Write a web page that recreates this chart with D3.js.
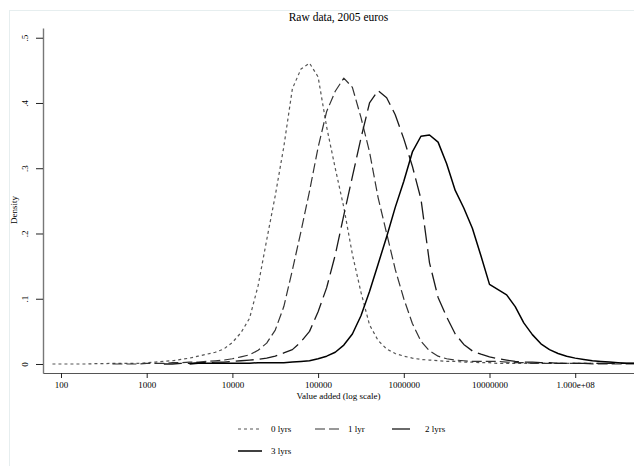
<!DOCTYPE html>
<html>
<head>
<meta charset="utf-8">
<script src="https://cdn.jsdelivr.net/npm/d3@7"></script>
<style>
  body { margin: 0; background: #fff; }
  svg text { font-family: "Times New Roman", "Liberation Serif", serif; fill: #000; }
</style>
</head>
<body>
<div id="chart"></div>
<script>
// log10 of value added (grid where the densities were read)
var logGrid = [1.9, 2.0, 2.1, 2.2, 2.3, 2.4, 2.5, 2.6, 2.7, 2.8, 2.9,
  3.0, 3.1, 3.2, 3.3, 3.4, 3.5, 3.6, 3.7, 3.8, 3.9,
  4.0, 4.1, 4.2, 4.3, 4.4, 4.5, 4.6, 4.7, 4.8, 4.9,
  5.0, 5.1, 5.2, 5.3, 5.4, 5.5, 5.6, 5.7, 5.8, 5.9,
  6.0, 6.1, 6.2, 6.3, 6.4, 6.5, 6.6, 6.7, 6.8, 6.9,
  7.0, 7.1, 7.2, 7.3, 7.4, 7.5, 7.6, 7.7, 7.8, 7.9,
  8.0, 8.1, 8.2, 8.3, 8.4, 8.5, 8.6, 8.7];

var seriesNames = ["0 lyrs", "1 lyr", "2 lyrs", "3 lyrs"];

var dens0 = [0.000, 0.000, 0.000, 0.000, 0.000, 0.0005, 0.0005, 0.001, 0.001, 0.001, 0.001,
  0.002, 0.003, 0.004, 0.005, 0.007, 0.009, 0.012, 0.015, 0.018, 0.023,
  0.033, 0.048, 0.070, 0.120, 0.190, 0.258, 0.333, 0.422, 0.452, 0.461,
  0.440, 0.363, 0.300, 0.240, 0.168, 0.110, 0.060, 0.036, 0.023, 0.016,
  0.012, 0.009, 0.007, 0.006, 0.005, 0.004, 0.004, 0.003, 0.003, 0.002,
  0.002, 0.001, 0.001, 0.001, 0.001, 0.001, 0.001, 0.001, 0.001, 0.001,
  0.001, 0.001, 0.001, 0.001, null, null, null, null];

var dens1 = [null, null, null, null, null, null, null, 0.000, 0.000, 0.000, 0.000,
  0.001, 0.001, 0.001, 0.002, 0.002, 0.003, 0.003, 0.004, 0.005, 0.006,
  0.008, 0.011, 0.014, 0.021, 0.032, 0.052, 0.088, 0.144, 0.203, 0.265,
  0.332, 0.387, 0.418, 0.438, 0.424, 0.378, 0.325, 0.255, 0.200, 0.145,
  0.100, 0.062, 0.035, 0.020, 0.012, 0.008, 0.006, 0.005, 0.004, 0.004,
  0.004, 0.004, 0.003, 0.002, 0.002, 0.001, 0.001, 0.001, 0.001, 0.001,
  0.001, 0.001, 0.000, 0.000, 0.000, 0.000, 0.000, 0.000];

var dens2 = [null, null, null, null, null, null, null, null, null, null, null,
  null, null, 0.000, 0.000, 0.001, 0.001, 0.002, 0.002, 0.003, 0.003,
  0.004, 0.005, 0.006, 0.007, 0.009, 0.012, 0.017, 0.022, 0.034, 0.050,
  0.080, 0.117, 0.167, 0.228, 0.287, 0.346, 0.400, 0.419, 0.408, 0.382,
  0.345, 0.303, 0.253, 0.155, 0.102, 0.072, 0.046, 0.030, 0.020, 0.015,
  0.011, 0.008, 0.006, 0.004, 0.003, 0.003, 0.002, 0.002, 0.001, 0.001,
  0.001, 0.001, 0.001, 0.001, 0.001, 0.001, 0.001, 0.001];

var dens3 = [null, null, null, null, null, null, null, null, null, null, null,
  null, null, null, null, null, 0.000, 0.001, 0.001, 0.001, 0.001,
  0.001, 0.001, 0.001, 0.002, 0.002, 0.002, 0.002, 0.003, 0.004, 0.005,
  0.008, 0.012, 0.018, 0.029, 0.046, 0.074, 0.111, 0.153, 0.195, 0.240,
  0.280, 0.325, 0.349, 0.351, 0.340, 0.307, 0.266, 0.239, 0.208, 0.166,
  0.122, 0.114, 0.106, 0.088, 0.063, 0.045, 0.031, 0.022, 0.016, 0.012,
  0.009, 0.007, 0.005, 0.004, 0.003, 0.002, 0.001, 0.001];

var xTicks = [100, 1000, 10000, 100000, 1000000, 10000000, 100000000];
var xTickLabels = ["100", "1000", "10000", "100000", "1000000", "10000000", "1.000e+08"];
var yTicks = [0, 0.1, 0.2, 0.3, 0.4, 0.5];
var yTickLabels = ["0", ".1", ".2", ".3", ".4", ".5"];

var width = 634, height = 466;
var plot = {left: 43, right: 634, top: 28, bottom: 373};

var svg = d3.select("#chart").append("svg")
    .attr("width", width)
    .attr("height", height);

// faint graph region outline
svg.append("rect")
    .attr("x", 9.5).attr("y", 10.5)
    .attr("width", width).attr("height", height)
    .attr("fill", "none")
    .attr("stroke", "#e6eeef");

var x = d3.scaleLog()
    .domain([Math.pow(10, 1.79), Math.pow(10, 8.686)])
    .range([plot.left, plot.right]);
var y = d3.scaleLinear()
    .domain([-0.0138, 0.5149])
    .range([plot.bottom, plot.top]);

svg.append("defs").append("clipPath").attr("id", "clip")
  .append("rect")
    .attr("x", plot.left).attr("y", plot.top)
    .attr("width", plot.right - plot.left).attr("height", plot.bottom - plot.top);

var styles = [
  {stroke: "#555", width: 1.2, dash: "3,3"},
  {stroke: "#333", width: 1.2, dash: "10,4"},
  {stroke: "#1a1a1a", width: 1.3, dash: "18,6"},
  {stroke: "#000", width: 1.5, dash: null}
];

var allDens = [dens0, dens1, dens2, dens3];
var series = seriesNames.map(function(name, i) {
  return {
    id: name,
    values: logGrid.map(function(g, j) {
      return {value: Math.pow(10, g), dens: allDens[i][j]};
    })
  };
});

var line = d3.line()
    .defined(function(d) { return d.dens !== null; })
    .x(function(d) { return x(d.value); })
    .y(function(d) { return y(d.dens); });

svg.append("g")
    .attr("clip-path", "url(#clip)")
  .selectAll(".dens")
  .data(series)
  .enter().append("path")
    .attr("class", "dens")
    .attr("d", function(d) { return line(d.values); })
    .attr("fill", "none")
    .attr("stroke", function(d, i) { return styles[i].stroke; })
    .attr("stroke-width", function(d, i) { return styles[i].width; })
    .attr("stroke-dasharray", function(d, i) { return styles[i].dash; })
    .attr("stroke-linejoin", "round");

// y axis
var yAxis = svg.append("g")
    .attr("transform", "translate(" + plot.left + ",0)")
    .call(d3.axisLeft(y).tickValues(yTicks).tickSize(7).tickSizeOuter(0)
      .tickFormat(function(d, i) { return yTickLabels[i]; }));
yAxis.select(".domain").attr("stroke", "#777").attr("stroke-width", 1.4);
yAxis.selectAll(".tick line").attr("stroke", "#222");
yAxis.selectAll(".tick text")
    .attr("x", null).attr("dy", null)
    .attr("text-anchor", "middle")
    .attr("transform", "translate(-15,0) rotate(-90)")
    .style("font-size", "9px");

// x axis
var xAxis = svg.append("g")
    .attr("transform", "translate(0," + plot.bottom + ")")
    .call(d3.axisBottom(x).tickValues(xTicks).tickSize(5).tickSizeOuter(0)
      .tickFormat(function(d, i) { return xTickLabels[i]; }));
xAxis.select(".domain").attr("stroke", "#555").attr("stroke-width", 1.2);
xAxis.selectAll(".tick line").attr("stroke", "#222");
xAxis.selectAll(".tick text").attr("y", 9).style("font-size", "9px");

// titles
svg.append("text")
    .attr("x", (plot.left + plot.right) / 2).attr("y", 21)
    .attr("text-anchor", "middle")
    .style("font-size", "11.5px")
    .text("Raw data, 2005 euros");

svg.append("text")
    .attr("x", (plot.left + plot.right) / 2).attr("y", 399)
    .attr("text-anchor", "middle")
    .style("font-size", "9px")
    .text("Value added (log scale)");

svg.append("text")
    .attr("transform", "translate(17,210) rotate(-90)")
    .attr("text-anchor", "middle")
    .style("font-size", "9px")
    .text("Density");

// legend
var legend = svg.selectAll(".legend")
    .data(series)
  .enter().append("g")
    .attr("class", "legend")
    .attr("transform", function(d, i) {
      return "translate(" + (238 + (i % 3) * 77) + "," + (429 + Math.floor(i / 3) * 22) + ")";
    });

legend.append("line")
    .attr("x1", 0).attr("x2", 24)
    .attr("stroke", function(d, i) { return styles[i].stroke; })
    .attr("stroke-width", function(d, i) { return styles[i].width; })
    .attr("stroke-dasharray", function(d, i) { return styles[i].dash; });

legend.append("text")
    .attr("x", 33).attr("y", 3)
    .style("font-size", "9px")
    .text(function(d) { return d.id; });
</script>
</body>
</html>
